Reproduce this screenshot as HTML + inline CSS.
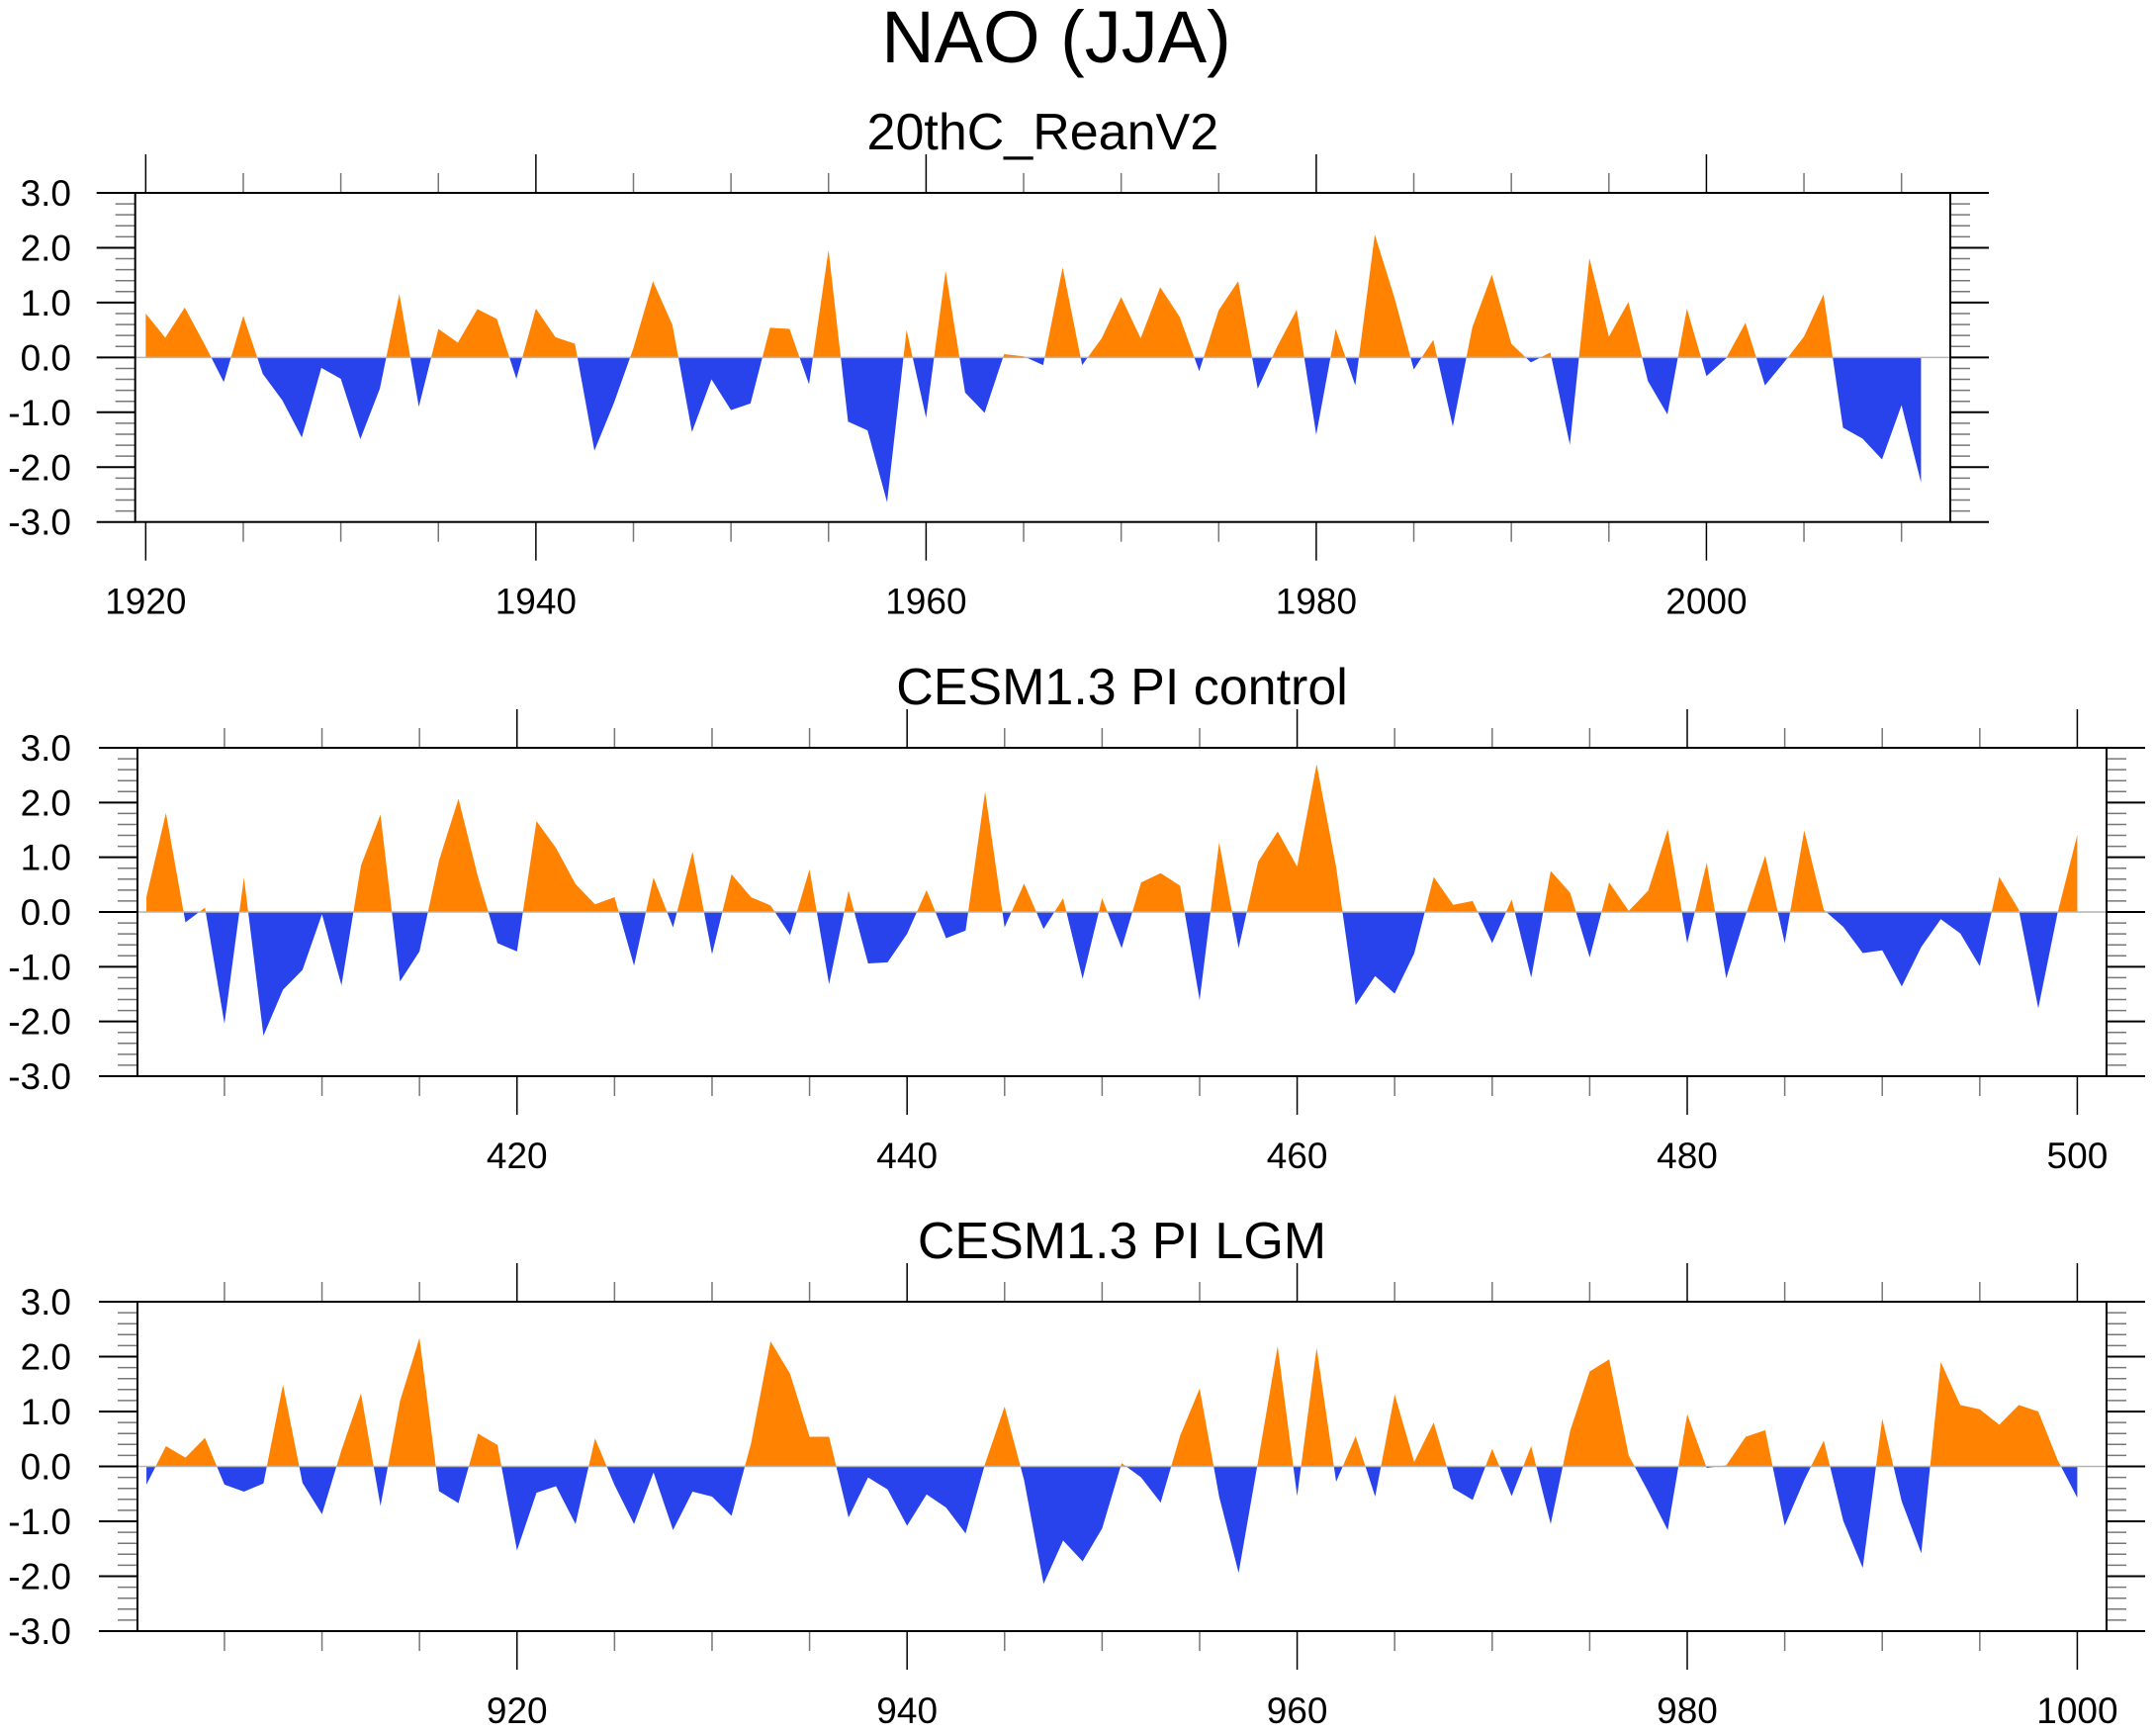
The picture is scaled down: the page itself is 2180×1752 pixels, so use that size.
<!DOCTYPE html>
<html><head><meta charset="utf-8"><title>NAO (JJA)</title>
<style>
html,body{margin:0;padding:0;background:#fff;}
svg{display:block;font-family:"Liberation Sans",sans-serif;}
</style></head>
<body>
<svg id="chart" width="2180" height="1752" viewBox="0 0 2180 1752" xmlns="http://www.w3.org/2000/svg">
<text x="1068" y="63" font-size="74" text-anchor="middle">NAO (JJA)</text>
</svg>
<script>
const yTicks = [-3, -2, -1, 0, 1, 2, 3];
const yTickLabels = ["-3.0", "-2.0", "-1.0", "0.0", "1.0", "2.0", "3.0"];
const titles = ["20thC_ReanV2", "CESM1.3 PI control", "CESM1.3 PI LGM"];
const startYears = [1920, 401, 901];
const xMajorTicks1 = [1920, 1940, 1960, 1980, 2000];
const xMajorTicks2 = [420, 440, 460, 480, 500];
const xMajorTicks3 = [920, 940, 960, 980, 1000];
const rean = [0.80,0.36,0.91,0.25,-0.45,0.76,-0.30,-0.78,-1.46,-0.19,-0.39,-1.49,-0.57,1.16,-0.90,0.52,0.27,0.88,0.70,-0.39,
0.89,0.37,0.25,-1.70,-0.83,0.17,1.39,0.59,-1.36,-0.40,-0.96,-0.84,0.54,0.52,-0.49,1.96,-1.17,-1.33,-2.64,0.50,
-1.10,1.58,-0.64,-1.01,0.06,0.02,-0.14,1.64,-0.14,0.35,1.10,0.35,1.28,0.74,-0.25,0.86,1.39,-0.57,0.20,0.87,
-1.41,0.52,-0.51,2.24,1.10,-0.22,0.32,-1.26,0.55,1.51,0.25,-0.09,0.09,-1.59,1.81,0.38,1.01,-0.43,-1.04,0.89,
-0.34,-0.02,0.63,-0.51,-0.08,0.38,1.15,-1.28,-1.48,-1.86,-0.87,-2.28];
const piControl = [0.28,1.81,-0.19,0.08,-2.04,0.63,-2.26,-1.42,-1.06,-0.04,-1.34,0.85,1.78,-1.27,-0.72,0.94,2.07,0.64,-0.57,-0.72,
1.66,1.17,0.51,0.14,0.27,-0.98,0.63,-0.28,1.10,-0.77,0.69,0.27,0.12,-0.42,0.78,-1.32,0.39,-0.94,-0.92,-0.40,
0.40,-0.48,-0.34,2.20,-0.28,0.52,-0.31,0.25,-1.22,0.25,-0.66,0.54,0.71,0.48,-1.61,1.27,-0.66,0.92,1.47,0.83,
2.70,0.82,-1.70,-1.17,-1.49,-0.76,0.64,0.13,0.20,-0.57,0.23,-1.20,0.75,0.35,-0.83,0.54,0.02,0.39,1.51,-0.57,
0.90,-1.21,-0.05,1.03,-0.57,1.49,0.04,-0.27,-0.75,-0.70,-1.36,-0.64,-0.13,-0.39,-0.99,0.64,0.04,-1.76,0.00,1.41];
const piLGM = [-0.33,0.37,0.16,0.52,-0.33,-0.46,-0.31,1.49,-0.30,-0.87,0.30,1.33,-0.72,1.19,2.34,-0.45,-0.67,0.60,0.39,-1.53,
-0.48,-0.36,-1.05,0.51,-0.34,-1.05,-0.11,-1.16,-0.46,-0.55,-0.90,0.42,2.28,1.69,0.54,0.54,-0.93,-0.20,-0.42,-1.08,
-0.51,-0.75,-1.22,0.05,1.09,-0.25,-2.14,-1.35,-1.73,-1.13,0.06,-0.20,-0.66,0.56,1.42,-0.55,-1.94,0.10,2.19,-0.54,
2.16,-0.28,0.55,-0.55,1.31,0.08,0.80,-0.40,-0.61,0.32,-0.54,0.37,-1.05,0.65,1.73,1.95,0.20,-0.46,-1.16,0.95,
-0.03,0.02,0.54,0.66,-1.08,-0.25,0.47,-0.99,-1.85,0.87,-0.64,-1.58,1.90,1.12,1.04,0.76,1.12,1.00,0.11,-0.57];

const NS = "http://www.w3.org/2000/svg";
const svg = document.getElementById("chart");
function mk(tag, attrs, parent) {
  const e = document.createElementNS(NS, tag);
  for (const k in attrs) e.setAttribute(k, attrs[k]);
  (parent || svg).appendChild(e);
  return e;
}
const panels = [
  {x0:136.7, x1:1972, y0:195, y1:527.7, xmin:1919.46, xmax:2012.5, data:rean, majors:xMajorTicks1, name:"reanalysis"},
  {x0:139, x1:2130, y0:756, y1:1088, xmin:400.54, xmax:501.5, data:piControl, majors:xMajorTicks2, name:"pi-control"},
  {x0:139, x1:2130, y0:1316, y1:1649, xmin:900.54, xmax:1001.5, data:piLGM, majors:xMajorTicks3, name:"pi-lgm"}
];
panels.forEach((p, pi) => {
  const g = mk("g", {});
  
  
  const xs = v => p.x0 + (v - p.xmin) / (p.xmax - p.xmin) * (p.x1 - p.x0);
  const ys = v => p.y1 - (v + 3) / 6 * (p.y1 - p.y0);
  const zy = ys(0);
  const t = mk("text", {x:(p.x0 + p.x1) / 2, y:p.y0 - 44, "font-size":52, "text-anchor":"middle"}, g);
  t.textContent = titles[pi];
  
  
  const cu = mk("clipPath", {id:"cu" + pi}, g);
  mk("rect", {x:p.x0, y:p.y0, width:p.x1 - p.x0, height:zy - p.y0}, cu);
  const cd = mk("clipPath", {id:"cd" + pi}, g);
  mk("rect", {x:p.x0, y:zy, width:p.x1 - p.x0, height:p.y1 - zy}, cd);
  const sy = startYears[pi];
  let pts = [];
  p.data.forEach((v, i) => pts.push(xs(sy + i).toFixed(2) + "," + ys(v).toFixed(2)));
  const n = p.data.length;
  const poly = xs(sy).toFixed(2) + "," + zy + " " + pts.join(" ") + " " + xs(sy + n - 1).toFixed(2) + "," + zy;
  const up = mk("polygon", {points:poly, fill:"#ff8200", "clip-path":"url(#cu" + pi + ")"}, g);
  
  
  const dn = mk("polygon", {points:poly, fill:"#2843eb", "clip-path":"url(#cd" + pi + ")"}, g);
  
  
  const zl = mk("line", {x1:p.x0, x2:p.x1, y1:zy, y2:zy, stroke:"#b4b4b4", "stroke-width":1.5}, g);
  
  
  for (let k = 0; k <= 30; k++) {
    const v = -3 + k * 0.2;
    const y = ys(v);
    const major = (k % 5 === 0);
    const L = major ? 39 : 20;
    mk("line", {x1:p.x0 - L, x2:p.x0, y1:y, y2:y, stroke:major ? "#000" : "#777", "stroke-width":major ? 2 : 1.5}, g);
    mk("line", {x1:p.x1, x2:p.x1 + L, y1:y, y2:y, stroke:major ? "#000" : "#777", "stroke-width":major ? 2 : 1.5}, g);
  }
  yTicks.forEach((v, i) => {
    const tl = mk("text", {x:72, y:ys(v) + 13, "font-size":37, "text-anchor":"end"}, g);
    tl.textContent = yTickLabels[i];
    
    
  });
  for (let yr = Math.ceil(p.xmin / 5) * 5; yr <= p.xmax; yr += 5) {
    const x = xs(yr);
    const major = p.majors.indexOf(yr) >= 0;
    const L = major ? 39 : 20;
    const st = major ? "#000" : "#777";
    mk("line", {x1:x, x2:x, y1:p.y0 - L, y2:p.y0, stroke:st, "stroke-width":1.5}, g);
    mk("line", {x1:x, x2:x, y1:p.y1, y2:p.y1 + L, stroke:st, "stroke-width":1.5}, g);
  }
  p.majors.forEach(yr => {
    const xl = mk("text", {x:xs(yr), y:p.y1 + 93, "font-size":37, "text-anchor":"middle"}, g);
    xl.textContent = String(yr);
    
    
  });
  const box = mk("rect", {x:p.x0, y:p.y0, width:p.x1 - p.x0, height:p.y1 - p.y0, fill:"none", stroke:"#000", "stroke-width":2}, g);
  
  
});
</script>
</body></html>
